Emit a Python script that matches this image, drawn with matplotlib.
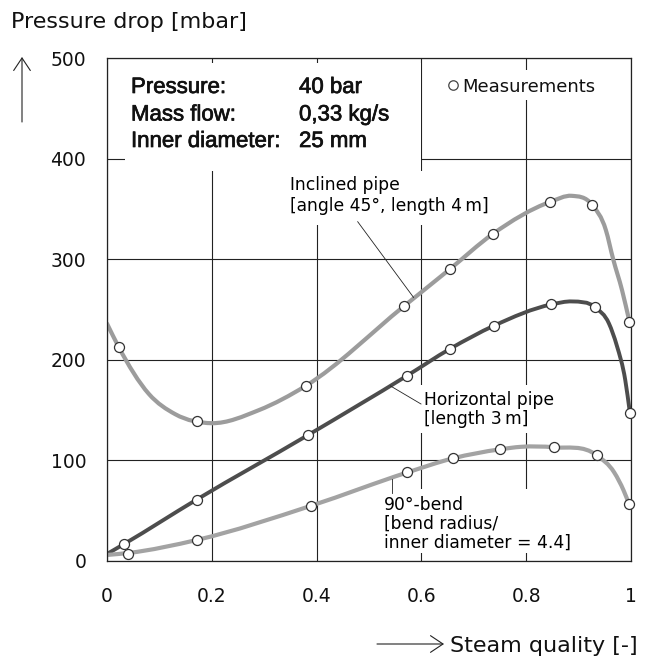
import numpy as np
import matplotlib
matplotlib.use("Agg")
import matplotlib.pyplot as plt
from matplotlib.path import Path
from matplotlib.patches import PathPatch, Rectangle
import matplotlib.patheffects as pe

plt.rcParams['font.family'] = ['DejaVu Sans']

# measured points (steam quality, pressure drop in mbar)
incl_x = [0.022, 0.171, 0.379, 0.566, 0.654, 0.736, 0.846, 0.926, 0.997]
incl_y = [213, 139, 174, 253, 290, 325, 357, 354, 238]
horiz_x = [0.033, 0.171, 0.383, 0.572, 0.655, 0.739, 0.848, 0.932, 0.998]
horiz_y = [17, 61, 125, 184, 211, 234, 255, 252, 147]
bend_x = [0.041, 0.172, 0.390, 0.573, 0.660, 0.750, 0.853, 0.935, 0.996]
bend_y = [7, 21, 55, 88, 102, 111, 113, 105, 57]

# fitted curves
incl_cx = [0.0, 0.022, 0.08, 0.13, 0.2, 0.29, 0.379, 0.566, 0.654, 0.736, 0.846, 0.887, 0.926, 0.952, 0.966, 0.983, 0.997]
incl_cy = [236, 213, 166, 146, 137, 150, 174, 253, 290, 325, 357, 363, 354, 329, 300, 269, 238]
horiz_cx = [0.0, 0.033, 0.171, 0.383, 0.572, 0.655, 0.739, 0.848, 0.888, 0.932, 0.958, 0.973, 0.989, 0.998]
horiz_cy = [7, 17, 61, 125, 184, 211, 234, 255, 258, 252, 236, 214, 180, 147]
bend_cx = [0.0, 0.041, 0.172, 0.390, 0.573, 0.660, 0.750, 0.790, 0.853, 0.935, 0.968, 0.986, 0.996]
bend_cy = [6, 8, 21, 55, 88, 102, 111, 113.5, 113, 105, 88, 70, 57]

x_ticks = [0, 0.2, 0.4, 0.6, 0.8, 1]
x_labels = ["0", "0.2", "0.4", "0.6", "0.8", "1"]
y_ticks = [0, 100, 200, 300, 400, 500]
y_labels = ["0", "100", "200", "300", "400", "500"]

info_keys = ["Pressure:", "Mass flow:", "Inner diameter:"]
info_vals = ["40 bar", "0,33 kg/s", "25 mm"]


def smooth_path(xs, ys):
    # cubic hermite segments written as bezier path
    xs = np.asarray(xs, float)
    ys = np.asarray(ys, float)
    h = np.diff(xs)
    d = np.diff(ys) / h
    m = np.empty_like(xs)
    m[0] = d[0]
    m[-1] = d[-1]
    m[1:-1] = (h[:-1] * d[1:] + h[1:] * d[:-1]) / (h[:-1] + h[1:])
    verts = [(xs[0], ys[0])]
    codes = [Path.MOVETO]
    for i in range(len(h)):
        verts.append((xs[i] + h[i] / 3, ys[i] + m[i] * h[i] / 3))
        verts.append((xs[i + 1] - h[i] / 3, ys[i + 1] - m[i + 1] * h[i] / 3))
        verts.append((xs[i + 1], ys[i + 1]))
        codes += [Path.CURVE4] * 3
    return Path(verts, codes)


W, H = 649, 658
fig = plt.figure(figsize=(W / 100, H / 100), dpi=100)
L, R, T, B = 107, 631, 58, 561
ax = fig.add_axes([L / W, (H - B) / H, (R - L) / W, (B - T) / H])
ax.set_xlim(0, 1)
ax.set_ylim(0, 500)

ax.set_xticks(x_ticks)
ax.set_xticklabels(x_labels)
ax.set_yticks(y_ticks)
ax.set_yticklabels(y_labels)
ax.tick_params(length=0, labelsize=13.5, colors="#111111")
ax.tick_params(axis="x", pad=19)
ax.tick_params(axis="y", pad=15)
ax.set_axisbelow(True)
ax.grid(True, color="#222222", linewidth=0.8)
for s in ax.spines.values():
    s.set_linewidth(0.9)
    s.set_color("#222222")


def px2x(px):
    return (px - L) / (R - L)


def py2y(py):
    return (B - py) / (B - T) * 500


# white areas that hide the grid behind the texts
def white_box(x0, y0, x1, y1):
    ax.add_patch(Rectangle((x0, y0), x1 - x0, y1 - y0, facecolor="white",
                           edgecolor="none", zorder=1))


white_box(0.034, 388, 0.60, 495)
white_box(px2x(285), py2y(225), px2x(500), 388)
white_box(px2x(420), py2y(433), px2x(596), py2y(385))
white_box(px2x(380), 8, px2x(592), 72)
white_box(px2x(440), py2y(100), px2x(612), py2y(70))

# curves
for cx, cy, col, lw in [(incl_cx, incl_cy, "#9c9c9c", 3.0),
                        (horiz_cx, horiz_cy, "#4d4d4d", 2.8),
                        (bend_cx, bend_cy, "#a3a3a3", 3.0)]:
    ax.add_patch(PathPatch(smooth_path(cx, cy), fill=False, edgecolor=col,
                           linewidth=lw, capstyle="round", joinstyle="round",
                           zorder=2))

mk = dict(linestyle="none", marker="o", markersize=7.2, markerfacecolor="white",
          markeredgecolor="#333333", markeredgewidth=0.9, zorder=3, clip_on=False)
ax.plot(incl_x, incl_y, **mk)
ax.plot(horiz_x, horiz_y, **mk)
ax.plot(bend_x, bend_y, **mk)

# info block
stroke = [pe.withStroke(linewidth=0.5, foreground="#111111")]
rows_py = [93, 120.5, 147]
for k, v, py in zip(info_keys, info_vals, rows_py):
    ax.text(px2x(131), py2y(py), k, fontsize=16, family="Liberation Sans",
            color="#111111", va="baseline", zorder=4, path_effects=stroke)
    ax.text(px2x(299), py2y(py), v, fontsize=16, family="Liberation Sans",
            color="#111111", va="baseline", zorder=4, path_effects=stroke)

# legend
ax.plot([px2x(453)], [py2y(85)], linestyle="none", marker="o", markersize=6.8,
        markerfacecolor="white", markeredgecolor="#444444", markeredgewidth=0.9,
        zorder=4)
ax.text(px2x(462), py2y(92), "Measurements", fontsize=13, va="baseline",
        color="#111111", zorder=4)

# curve labels
fs = 12.3
ax.text(px2x(290), py2y(190.5), "Inclined pipe", fontsize=fs, va="baseline", zorder=4)
ax.text(px2x(290), py2y(211.5), "[angle 45°, length 4\u2009m]", fontsize=fs,
        va="baseline", zorder=4)
ax.plot([px2x(357.7), 0.585], [py2y(221.7), 262], color="#222222", lw=0.6, zorder=4)

ax.text(px2x(424), py2y(405), "Horizontal pipe", fontsize=fs, va="baseline", zorder=4)
ax.text(px2x(424), py2y(424), "[length 3\u2009m]", fontsize=fs, va="baseline", zorder=4)
ax.plot([0.541, px2x(421)], [174, py2y(404)], color="#222222", lw=0.6, zorder=4)

ax.text(px2x(384), py2y(510), "90°-bend", fontsize=fs, va="baseline", zorder=4)
ax.text(px2x(384), py2y(528.5), "[bend radius/", fontsize=fs, va="baseline", zorder=4)
ax.text(px2x(384), py2y(548), "inner diameter = 4.4]", fontsize=fs, va="baseline", zorder=4)
ax.plot([0.543, 0.543], [82, 67.5], color="#222222", lw=0.6, zorder=4)

# axis titles with arrows
fig.text(11 / W, (H - 27.5) / H, "Pressure drop [mbar]", fontsize=16,
         va="baseline", ha="left", color="#111111")
fig.text(638 / W, (H - 651.5) / H, "Steam quality [-]", fontsize=16,
         va="baseline", ha="right", color="#111111")
arrow = dict(arrowstyle="->,head_length=0.45,head_width=0.3", lw=0.8,
             color="#222222", mutation_scale=20, shrinkA=0, shrinkB=0)
ax.annotate("", xy=(22, H - 57), xytext=(22, H - 122), xycoords="figure pixels",
            textcoords="figure pixels", arrowprops=arrow, annotation_clip=False)
ax.annotate("", xy=(444, H - 644), xytext=(377, H - 644), xycoords="figure pixels",
            textcoords="figure pixels", arrowprops=arrow, annotation_clip=False)

fig.savefig("out.png", dpi=100)
